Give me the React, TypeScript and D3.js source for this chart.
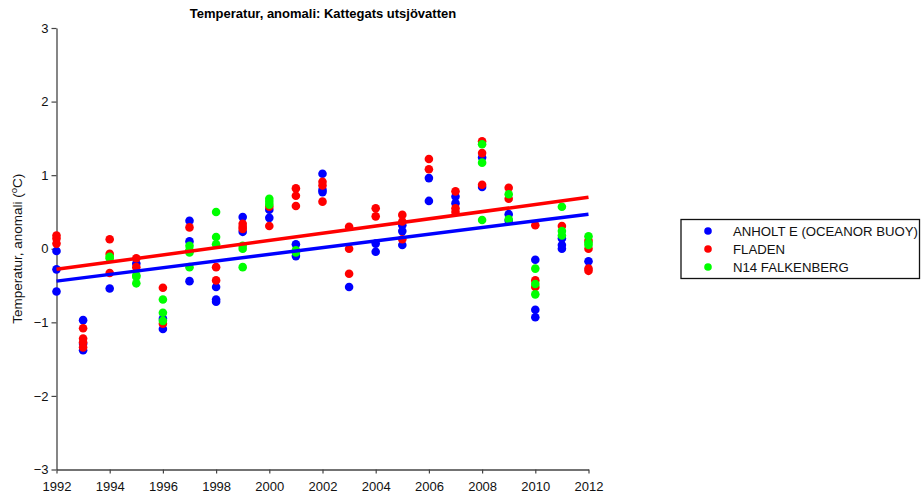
import React, { useEffect, useRef } from "react";
import * as d3 from "d3";

const xTicks = [1992, 1994, 1996, 1998, 2000, 2002, 2004, 2006, 2008, 2010, 2012];
const yTicks = [-3, -2, -1, 0, 1, 2, 3];

const anholtYears = [1992, 1992, 1992, 1993, 1993, 1993, 1994, 1995, 1996, 1996, 1997, 1997, 1997, 1998, 1998, 1998, 1999, 1999, 2000, 2000, 2001, 2001, 2002, 2002, 2002, 2003, 2004, 2004, 2005, 2005, 2005, 2006, 2006, 2007, 2007, 2008, 2008, 2009, 2009, 2010, 2010, 2010, 2011, 2011, 2011, 2012];
const anholtValues = [-0.03, -0.28, -0.58, -0.97, -1.29, -1.38, -0.54, -0.2, -0.95, -1.09, 0.38, 0.1, -0.44, -0.52, -0.69, -0.72, 0.43, 0.23, 0.53, 0.42, 0.06, -0.1, 1.02, 0.8, 0.77, -0.52, 0.07, -0.04, 0.32, 0.24, 0.05, 0.96, 0.65, 0.71, 0.62, 1.24, 0.84, 0.47, 0.38, -0.15, -0.83, -0.93, 0.14, 0.05, 0.0, -0.17];

const fladenYears = [1992, 1992, 1992, 1993, 1993, 1993, 1993, 1994, 1994, 1994, 1995, 1995, 1996, 1996, 1997, 1997, 1998, 1998, 1999, 1999, 1999, 2000, 2000, 2001, 2001, 2001, 2002, 2002, 2002, 2003, 2003, 2003, 2004, 2004, 2005, 2005, 2005, 2006, 2006, 2007, 2007, 2007, 2008, 2008, 2008, 2009, 2009, 2010, 2010, 2010, 2011, 2012, 2012, 2012, 2012];
const fladenValues = [0.18, 0.14, 0.07, -1.08, -1.22, -1.27, -1.34, 0.13, -0.07, -0.33, -0.13, -0.25, -0.53, -1.02, 0.29, -0.03, -0.25, -0.43, 0.34, 0.3, 0.27, 0.57, 0.31, 0.82, 0.72, 0.58, 0.91, 0.86, 0.64, 0.3, 0.0, -0.34, 0.55, 0.44, 0.46, 0.37, 0.13, 1.22, 1.08, 0.78, 0.55, 0.5, 1.46, 1.3, 0.87, 0.83, 0.68, 0.32, -0.43, -0.52, 0.31, 0.11, 0.0, -0.27, -0.3];

const falkenbergYears = [1994, 1994, 1995, 1995, 1995, 1996, 1996, 1996, 1997, 1997, 1997, 1997, 1998, 1998, 1998, 1999, 1999, 1999, 2000, 2000, 2000, 2001, 2001, 2008, 2008, 2008, 2009, 2009, 2010, 2010, 2010, 2011, 2011, 2011, 2012, 2012, 2012];
const falkenbergValues = [-0.11, -0.13, -0.36, -0.38, -0.47, -0.69, -0.87, -0.98, 0.04, -0.02, -0.05, -0.25, 0.5, 0.16, 0.06, 0.04, 0.0, -0.25, 0.68, 0.64, 0.6, -0.02, -0.05, 1.42, 1.17, 0.39, 0.74, 0.4, -0.27, -0.48, -0.62, 0.57, 0.24, 0.18, 0.17, 0.05, 0.08];

const trendYears = [1992, 2012];
const anholtTrend = [-0.44, 0.47];
const fladenTrend = [-0.28, 0.7];

const seriesNames = ["ANHOLT E (OCEANOR BUOY)", "FLADEN", "N14 FALKENBERG"];
const seriesColors = ["#0000ff", "#ff0000", "#00ff00"];

export default function App() {
  const ref = useRef<SVGSVGElement>(null);

  useEffect(() => {
    const svg = d3.select(ref.current);
    svg.selectAll("*").remove();
    const font = "'Liberation Sans', Arial, Helvetica, sans-serif";
    const axisColor = "#444";

    const x = d3.scaleLinear().domain([1992, 2012]).range([56.5, 588.5]);
    const y = d3.scaleLinear().domain([-3, 3]).range([469.5, 28]);

    // title
    svg.append("text")
      .attr("x", 323).attr("y", 18)
      .attr("text-anchor", "middle")
      .attr("font-family", font).attr("font-weight", "bold").attr("font-size", 13)
      .text("Temperatur, anomali: Kattegats utsjövatten");

    // y axis label
    const yl = svg.append("text")
      .attr("transform", `translate(22,${(y(3) + y(-3)) / 2}) rotate(-90)`)
      .attr("text-anchor", "middle")
      .attr("font-family", font).attr("font-size", 13.5)
      .attr("fill", "#111");
    yl.append("tspan").text("Temperatur, anomali (");
    yl.append("tspan").attr("dy", -5).attr("font-size", 9.5).text("o");
    yl.append("tspan").attr("dy", 5).text("C)");

    const fmt = (d: number) => (d < 0 ? "\u2212" + Math.abs(d) : String(d));

    const yAxis = svg.append("g").attr("transform", `translate(${x(1992)},0)`)
      .call(d3.axisLeft(y).tickValues(yTicks).tickSize(5).tickSizeOuter(0).tickPadding(3).tickFormat((d) => fmt(+d)));
    const xAxis = svg.append("g").attr("transform", `translate(0,${y(-3)})`)
      .call(d3.axisBottom(x).tickValues(xTicks).tickSize(4).tickSizeOuter(0).tickPadding(8).tickFormat((d) => String(d)));
    [yAxis, xAxis].forEach((g) => {
      g.selectAll("path").attr("stroke", axisColor).attr("stroke-width", 1.3);
      g.selectAll("line").attr("stroke", axisColor).attr("stroke-width", 1.2);
      g.selectAll("text").attr("font-family", font).attr("font-size", 13).attr("fill", "#111");
    });

    const data = [
      { years: anholtYears, values: anholtValues, color: seriesColors[0] },
      { years: fladenYears, values: fladenValues, color: seriesColors[1] },
      { years: falkenbergYears, values: falkenbergValues, color: seriesColors[2] },
    ];
    data.forEach((s) => {
      svg.append("g").selectAll("circle")
        .data(s.years.map((yr, i) => [yr, s.values[i]]))
        .join("circle")
        .attr("cx", (d) => x(d[0]))
        .attr("cy", (d) => y(d[1]))
        .attr("r", 4.3)
        .attr("fill", s.color);
    });

    const line = d3.line<number[]>().x((d) => x(d[0])).y((d) => y(d[1]));
    [
      { vals: anholtTrend, color: seriesColors[0] },
      { vals: fladenTrend, color: seriesColors[1] },
    ].forEach((t) => {
      svg.append("path")
        .datum(trendYears.map((yr, i) => [yr, t.vals[i]]))
        .attr("d", line)
        .attr("fill", "none")
        .attr("stroke", t.color)
        .attr("stroke-width", 3.5);
    });

    // legend
    const lg = svg.append("g");
    lg.append("rect").attr("x", 681).attr("y", 219.5).attr("width", 238.5).attr("height", 59)
      .attr("fill", "white").attr("stroke", "#111").attr("stroke-width", 1.3);
    seriesNames.forEach((name, i) => {
      const cy = 231 + i * 18;
      lg.append("circle").attr("cx", 708).attr("cy", cy).attr("r", 3.8).attr("fill", seriesColors[i]);
      lg.append("text").attr("x", 733).attr("y", cy + 4.5)
        .attr("font-family", font).attr("font-size", 13.2).attr("fill", "#111")
        .text(name);
    });
  }, []);

  return (
    <svg
      ref={ref}
      width={922}
      height={499}
      style={{ position: "absolute", left: 0, top: 0, background: "white" }}
    />
  );
}
